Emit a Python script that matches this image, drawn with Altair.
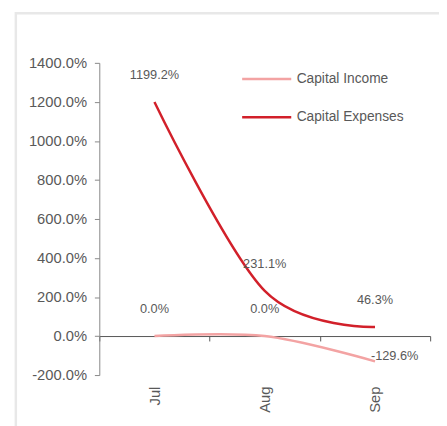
import altair as alt
import pandas as pd

months = ["Jul", "Aug", "Sep"]
capital_income = [0.0, 0.0, -129.6]
capital_expenses = [1199.2, 231.1, 46.3]
series_names = ["Capital Income", "Capital Expenses"]
series_colors = ["#f3a3a3", "#d2202a"]
y_ticks = [-200, 0, 200, 400, 600, 800, 1000, 1200, 1400]

rows = []
for m, v in zip(months, capital_income):
    rows.append({"month": m, "series": series_names[0], "value": v})
for m, v in zip(months, capital_expenses):
    rows.append({"month": m, "series": series_names[1], "value": v})
df = pd.DataFrame(rows)

FONT = "Liberation Sans"
GREY = "#595959"
FMT = "replace(format(datum.value, '.1f'), '\u2212', '-') + '%'"

x_enc = alt.X(
    "month:N",
    sort=months,
    scale=alt.Scale(type="band", paddingInner=0, paddingOuter=0),
    axis=alt.Axis(
        title=None,
        orient="bottom",
        offset=-39.75,
        labelAngle=-90,
        labelPadding=46,
        tickSize=5,
        tickBand="extent",
        domainColor="#555555",
        tickColor="#555555",
        labelColor=GREY,
        labelFontSize=15,
        labelFont=FONT,
        labelOverlap=False,
    ),
)
y_enc = alt.Y(
    "value:Q",
    scale=alt.Scale(domain=[-200, 1400], nice=False, zero=False),
    axis=alt.Axis(
        title=None,
        values=y_ticks,
        labelExpr=FMT,
        labelOverlap=False,
        grid=False,
        tickSize=5,
        labelPadding=8,
        domainColor="#888888",
        tickColor="#888888",
        labelColor=GREY,
        labelFontSize=15,
        labelFont=FONT,
    ),
)

base = alt.Chart(df).transform_calculate(label=FMT)

lines = base.mark_line(interpolate="cardinal", strokeWidth=2.5).encode(
    x=x_enc,
    y=y_enc,
    color=alt.Color(
        "series:N",
        scale=alt.Scale(domain=series_names, range=series_colors),
        legend=alt.Legend(
            title=None,
            orient="none",
            legendX=144,
            legendY=-10,
            padding=0,
            symbolType="stroke",
            symbolSize=2500,
            symbolStrokeWidth=2.5,
            rowPadding=5,
            labelFontSize=14,
            labelFont=FONT,
            labelColor=GREY,
            labelOffset=4,
        ),
    ),
)

text_style = dict(font=FONT, fontSize=13, color=GREY)
labels_pos = base.transform_filter("datum.value >= 0").mark_text(
    dy=-27, align="center", baseline="middle", **text_style
).encode(
    x=x_enc,
    y=y_enc,
    text="label:N",
)

labels_neg = base.transform_filter("datum.value < 0").mark_text(
    dx=20, dy=-5, align="center", baseline="middle", **text_style
).encode(
    x=x_enc,
    y=y_enc,
    text="label:N",
)

frame = alt.Chart(pd.DataFrame({"k": [0]})).mark_rect(
    filled=False, stroke="#e8e8e8", strokeWidth=2.5
).encode(
    x=alt.value(-85), y=alt.value(-50.5), x2=alt.value(420), y2=alt.value(480)
)

chart = alt.layer(frame, lines, labels_pos, labels_neg).properties(
    width=337,
    height=318,
    autosize=alt.AutoSizeParams(type="none"),
    padding={"left": 93, "top": 52, "right": 9, "bottom": 48},
    background="white",
).configure_view(stroke=None)

chart.save("out.html", embed_options={"renderer": "svg", "actions": False})
